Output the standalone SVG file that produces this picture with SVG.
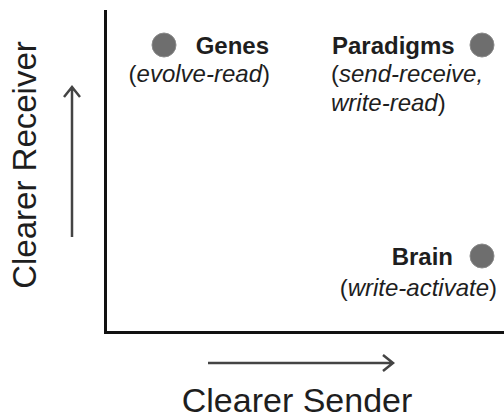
<svg xmlns="http://www.w3.org/2000/svg" width="504" height="419" viewBox="0 0 504 419">
<defs>
<style>
.lbl{font-family:"Liberation Sans",Arial,sans-serif;font-size:24px;fill:#1e1e1e}
.b{font-weight:bold}
.i{font-style:italic}
.axis{stroke:#111;stroke-width:3;fill:none}
.arr{stroke:#444;stroke-width:2.5;fill:none}
.dot{fill:#6e6e6e;stroke:#8a8a8a;stroke-width:1}
.big{font-family:"Liberation Sans",Arial,sans-serif;font-size:33px;fill:#1e1e1e}
</style>
</defs>
<rect width="504" height="419" fill="#fff"/>
<g id="axes">
<path class="axis" d="M105.5 10 V332.5 H504"/>
</g>
<g id="connectors">
<path class="arr" d="M72 237 V88 M64 97 L72 87 L80 97"/>
<path class="arr" d="M208 363 H392 M383 355 L393 363 L383 371"/>
</g>
<g id="label-receiver">
<text class="big" text-anchor="middle" transform="translate(36,165) rotate(-90)">Clearer Receiver</text>
</g>
<g id="label-sender">
<text class="big" x="297" y="412" text-anchor="middle" style="font-size:34px">Clearer Sender</text>
</g>
<g id="genes">
<circle class="dot" cx="164" cy="45" r="12"/>
<text class="lbl b" x="269" y="54" text-anchor="end">Genes</text>
<text class="lbl" x="270" y="82" text-anchor="end">(<tspan class="i">evolve-read</tspan>)</text>
</g>
<g id="paradigms">
<circle class="dot" cx="482" cy="45" r="12"/>
<text class="lbl b" x="332" y="54">Paradigms</text>
<text class="lbl" x="331" y="82">(<tspan class="i">send-receive,</tspan></text>
<text class="lbl" x="331" y="111"><tspan class="i">write-read</tspan>)</text>
</g>
<g id="brain">
<circle class="dot" cx="482" cy="256" r="12"/>
<text class="lbl b" x="453" y="265" text-anchor="end">Brain</text>
<text class="lbl" x="497" y="296" text-anchor="end">(<tspan class="i">write-activate</tspan>)</text>
</g>
</svg>
